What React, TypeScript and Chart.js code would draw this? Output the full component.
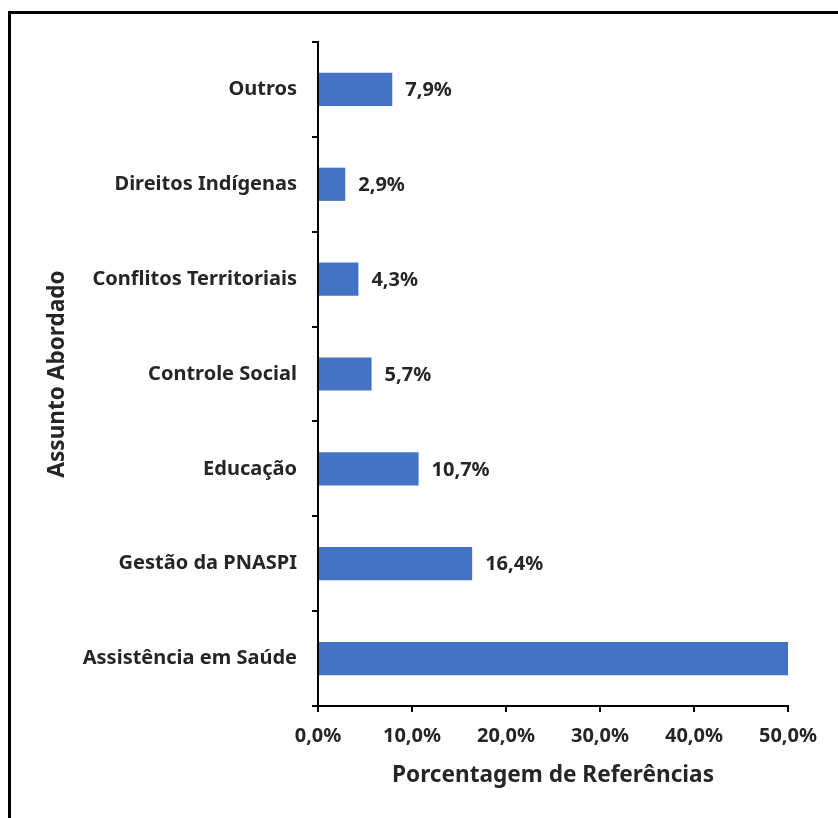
import React, { useEffect, useRef } from "react";
import { Chart, registerables } from "chart.js";

Chart.register(...registerables);

// Subjects addressed, top to bottom
const categories = [
  "Outros",
  "Direitos Indígenas",
  "Conflitos Territoriais",
  "Controle Social",
  "Educação",
  "Gestão da PNASPI",
  "Assistência em Saúde",
];

// Share of references (%)
const shares = [7.9, 2.9, 4.3, 5.7, 10.7, 16.4, 52.1];

const xTicks = [0, 10, 20, 30, 40, 50];

const BAR_COLOR = "#4472C4";
const TEXT_COLOR = "#262626";
const FONT = "'Noto Sans', 'Open Sans', sans-serif";
const LABEL_SIZE = 20;
const TITLE_SIZE = 22.6;

const fmt = (v: number, d = 1) => v.toFixed(d).replace(".", ",") + "%";

const framePlugin = {
  id: "frame",
  beforeDraw(chart: any) {
    const { ctx, width, height } = chart;
    ctx.save();
    ctx.fillStyle = "#ffffff";
    ctx.fillRect(0, 0, width, height);
    ctx.strokeStyle = "#000000";
    ctx.lineWidth = 3;
    ctx.strokeRect(9.5, 12.5, width + 20, height + 20);
    ctx.restore();
  },
};

const valueLabels = {
  id: "valueLabels",
  afterDatasetsDraw(chart: any) {
    const { ctx } = chart;
    const meta = chart.getDatasetMeta(0);
    const xMax = chart.scales.x.max;
    ctx.save();
    ctx.font = `bold ${LABEL_SIZE}px ${FONT}`;
    ctx.fillStyle = TEXT_COLOR;
    ctx.textAlign = "left";
    ctx.textBaseline = "middle";
    meta.data.forEach((bar: any, i: number) => {
      const v = shares[i];
      if (v > xMax) return;
      ctx.fillText(fmt(v), bar.x + 13, bar.y + 1);
    });
    ctx.restore();
  },
};

export default function App() {
  const ref = useRef<HTMLCanvasElement | null>(null);

  useEffect(() => {
    if (!ref.current) return;
    const chart = new Chart(ref.current, {
      type: "bar",
      data: {
        labels: categories,
        datasets: [
          {
            data: shares,
            backgroundColor: BAR_COLOR,
            borderWidth: 0,
            barPercentage: 0.35,
            categoryPercentage: 1,
          },
        ],
      },
      options: {
        indexAxis: "y",
        animation: false,
        responsive: false,
        devicePixelRatio: 1,
        layout: { padding: { left: 0, right: 50, top: 42, bottom: 0 } },
        plugins: {
          legend: { display: false },
          tooltip: { enabled: false },
        },
        scales: {
          x: {
            min: 0,
            max: 50,
            afterFit(scale: any) {
              scale.height = 112;
            },
            afterBuildTicks(scale: any) {
              scale.ticks = xTicks.map((v) => ({ value: v }));
            },
            ticks: {
              color: TEXT_COLOR,
              font: { family: FONT, size: LABEL_SIZE, weight: "bold" },
              padding: 12,
              maxRotation: 0,
              callback: (v: any) => fmt(Number(v)),
            },
            grid: {
              drawOnChartArea: false,
              drawTicks: true,
              tickLength: 6,
              color: "#000000",
              lineWidth: 2,
            },
            border: { display: true, color: "#000000", width: 2 },
            title: {
              display: true,
              text: "Porcentagem de Referências",
              color: TEXT_COLOR,
              font: { family: FONT, size: TITLE_SIZE, weight: "bold" },
              padding: { top: 0, bottom: 29 },
            },
          },
          y: {
            afterFit(scale: any) {
              scale.width = 318;
            },
            ticks: {
              color: TEXT_COLOR,
              font: { family: FONT, size: LABEL_SIZE, weight: "bold" },
              padding: 15,
            },
            grid: {
              drawOnChartArea: false,
              drawTicks: true,
              tickLength: 6,
              color: "#000000",
              lineWidth: 2,
            },
            border: { display: true, color: "#000000", width: 2 },
            title: {
              display: true,
              text: "Assunto Abordado",
              color: TEXT_COLOR,
              font: { family: FONT, size: TITLE_SIZE, weight: "bold" },
              padding: { top: 44, bottom: 0 },
            },
          },
        },
      },
      plugins: [framePlugin, valueLabels],
    });
    return () => chart.destroy();
  }, []);

  return (
    <div style={{ position: "fixed", left: 0, top: 0, width: 838, height: 818 }}>
      <canvas ref={ref} width={838} height={818} style={{ display: "block" }} />
    </div>
  );
}
